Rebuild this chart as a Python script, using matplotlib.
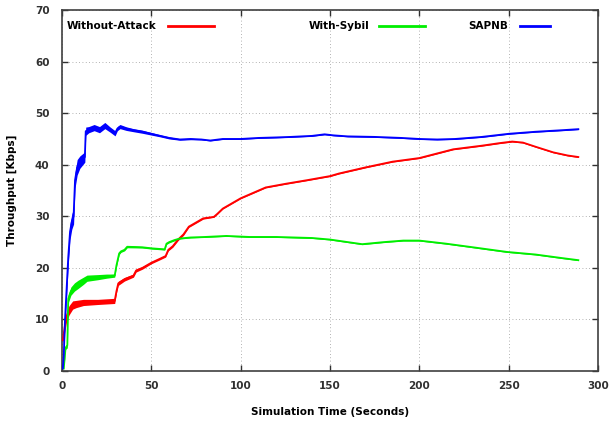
import matplotlib
matplotlib.use("Agg")
import matplotlib.pyplot as plt
import numpy as np

# ---- data ----
labels = ["Without-Attack", "With-Sybil", "SAPNB"]
colors = ["#ff0000", "#00ee00", "#0000ff"]

t_red = [0.5, 1.5, 2.5, 4, 6, 8, 12, 20, 29.5, 30.5, 31.5, 35, 40, 41.5, 45, 50, 55, 58, 59.5,
         62, 65, 68, 71, 75, 79, 85, 87, 90, 100, 114, 125, 137, 150, 155, 170, 185, 200, 219,
         235, 245, 252, 258, 265, 275, 283, 289]
y_red = [6, 8.5, 10.5, 11.8, 12.8, 13.0, 13.3, 13.4, 13.6, 15.5, 17.0, 17.8, 18.5, 19.5, 20.0,
         21.0, 21.8, 22.3, 23.5, 24.2, 25.5, 26.5, 28.0, 28.8, 29.6, 29.9, 30.5, 31.5, 33.5, 35.6,
         36.3, 37.0, 37.8, 38.3, 39.5, 40.6, 41.3, 43.0, 43.7, 44.2, 44.5, 44.3, 43.5, 42.4, 41.8, 41.5]
s_red = [1.0, 1.0, 1.0, 0.9, 0.8, 0.7, 0.6, 0.5, 0.5, 0.4, 0.4, 0.35, 0.3, 0.3, 0.25, 0.2, 0.2,
         0.2, 0.2, 0.2, 0.2, 0.2, 0.15, 0.15, 0.15, 0.1, 0.1, 0.1, 0.1, 0.1, 0.1, 0.1, 0.1, 0.1,
         0.1, 0.1, 0.1, 0.1, 0.1, 0.1, 0.1, 0.1, 0.1, 0.1, 0.1, 0.1]

t_green = [1.0, 2.0, 3.0, 3.5, 5, 7, 9, 12, 14, 20, 25, 29.5, 30.5, 32, 33, 35, 36.5, 45, 50,
           57.5, 58.5, 60, 63, 66, 72, 80, 92, 105, 120, 140, 150, 160, 168, 180, 191, 200, 215,
           230, 249, 265, 280, 289]
y_green = [0.5, 4.5, 5, 14, 15.5, 16.3, 16.8, 17.5, 18.0, 18.2, 18.4, 18.5, 20.5, 22.8, 23.2,
           23.5, 24.1, 24.0, 23.8, 23.6, 24.7, 25.0, 25.4, 25.7, 25.9, 26.0, 26.2, 26.0, 26.0,
           25.8, 25.5, 25.0, 24.6, 25.0, 25.3, 25.3, 24.7, 24.0, 23.1, 22.6, 21.9, 21.5]
s_green = [0.2, 0.3, 0.5, 0.8, 0.8, 0.8, 0.8, 0.7, 0.6, 0.5, 0.4, 0.3, 0.3, 0.25, 0.2, 0.2,
           0.2, 0.15, 0.15, 0.15, 0.15, 0.15, 0.15, 0.1, 0.1, 0.1, 0.1, 0.1, 0.1, 0.1, 0.1, 0.1,
           0.1, 0.1, 0.1, 0.1, 0.1, 0.1, 0.1, 0.1, 0.1, 0.1]

t_blue = [0.5, 1.0, 1.7, 2.6, 3.5, 4.5, 5.5, 6.5, 7.3, 8.5, 10, 12.8, 13.3, 15, 18, 21, 24, 27,
          29.7, 31, 32.5, 36, 40, 45, 50, 55, 60, 66, 72, 78, 83, 90, 100, 110, 120, 128, 140,
          147, 152, 160, 175, 190, 200, 210, 220, 235, 250, 265, 280, 289]
y_blue = [0.5, 3, 10, 16, 22, 27, 29, 30, 37, 39.5, 40.5, 41.5, 46.5, 46.8, 47.2, 46.8, 47.6,
          46.8, 46.1, 47.0, 47.4, 47.0, 46.7, 46.4, 46.0, 45.6, 45.2, 44.9, 45.0, 44.9, 44.7,
          45.0, 45.0, 45.2, 45.3, 45.4, 45.6, 45.9, 45.7, 45.5, 45.4, 45.2, 45.0, 44.9, 45.0,
          45.4, 46.0, 46.4, 46.7, 46.9]
s_blue = [0.2, 0.5, 1.0, 1.5, 1.5, 1.5, 1.5, 1.5, 1.5, 1.5, 1.2, 1.0, 0.8, 0.6, 0.6, 0.6, 0.6,
          0.5, 0.5, 0.4, 0.4, 0.35, 0.3, 0.3, 0.25, 0.2, 0.2, 0.15, 0.15, 0.1, 0.1, 0.1, 0.1, 0.1,
          0.1, 0.1, 0.1, 0.1, 0.1, 0.1, 0.1, 0.1, 0.1, 0.1, 0.1, 0.1, 0.1, 0.1, 0.1, 0.1]

x_ticks = [0, 50, 100, 150, 200, 250, 300]
y_ticks = [0, 10, 20, 30, 40, 50, 60, 70]

# ---- drawing ----
plt.rcParams['font.family'] = ['DejaVu Sans']
fig = plt.figure(figsize=(6.10, 4.26), dpi=100)
ax = fig.add_axes([0.1016, 0.129, 0.8787, 0.8475])

series = [(t_red, y_red, s_red), (t_green, y_green, s_green), (t_blue, y_blue, s_blue)]
for (t, y, s), c in zip(series, colors):
    t = np.array(t); y = np.array(y); s = np.array(s)
    ax.fill_between(t, y - s, y + s, color=c, lw=0, zorder=3)
    ax.plot(t, y, color=c, lw=1.3, zorder=4, solid_joinstyle='round')

ax.set_xlim(0, 300)
ax.set_ylim(0, 70)
ax.set_xticks(x_ticks)
ax.set_yticks(y_ticks)
ax.set_xticklabels([str(v) for v in x_ticks], fontsize=7.5, fontweight='bold')
ax.set_yticklabels([str(v) for v in y_ticks], fontsize=7.5, fontweight='bold')
ax.tick_params(axis='x', direction='in', length=4, width=1, top=True, pad=7, colors='#303030')
ax.tick_params(axis='y', direction='in', length=4, width=1, right=True, pad=9, colors='#303030')
ax.grid(True, color='#999999', lw=0.6, linestyle=(0, (1, 3)))
for sp in ax.spines.values():
    sp.set_color('#404040')
    sp.set_linewidth(1.2)

ax.set_xlabel("Simulation Time (Seconds)", fontsize=7.5, fontweight='bold', labelpad=12)
ax.set_ylabel("Throughput [Kbps]", fontsize=7.5, fontweight='bold', labelpad=13)

# gnuplot-style key: text right-aligned, then line sample
key_text_x = [0.177, 0.573, 0.832]
key_line_x = [(0.198, 0.284), (0.591, 0.677), (0.854, 0.910)]
key_y = 0.956
for lab, c, tx, (l0, l1) in zip(labels, colors, key_text_x, key_line_x):
    ax.text(tx, key_y, lab, transform=ax.transAxes, ha='right', va='center',
            fontsize=7.5, fontweight='bold', zorder=6)
    ax.plot([l0, l1], [key_y, key_y], transform=ax.transAxes, color=c, lw=2, zorder=6,
            clip_on=False)

fig.savefig("out.png", dpi=100)
